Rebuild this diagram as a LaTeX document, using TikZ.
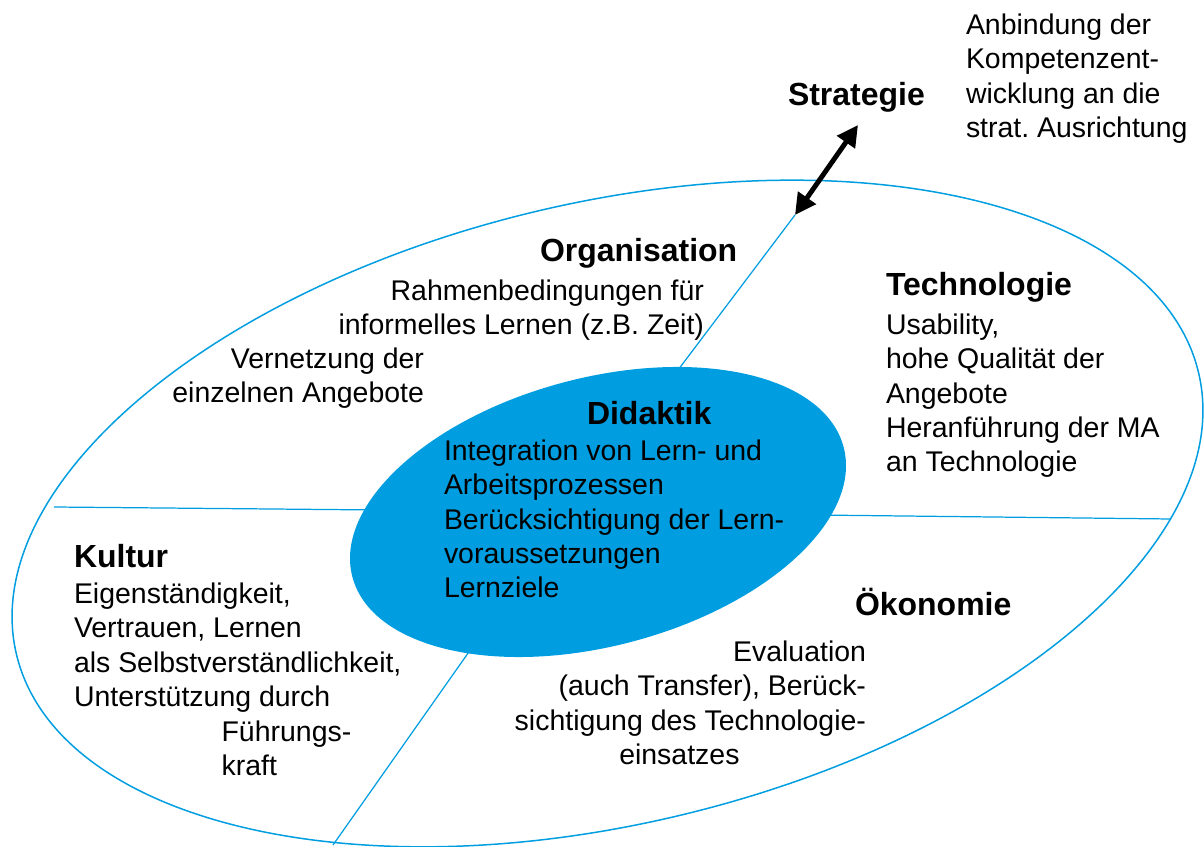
\documentclass[tikz,border=0pt]{standalone}
\usepackage{fontspec}
\setmainfont{Liberation Sans}
\frenchspacing
\usetikzlibrary{arrows.meta,shapes.geometric}
\definecolor{ringblue}{RGB}{0,158,224}
\begin{document}
\begin{tikzpicture}[x=0.02cm,y=-0.02cm,
  body/.style={font=\fontsize{16.2pt}{19.6pt}\selectfont, inner sep=0pt, outer sep=0pt},
  head/.style={font=\fontsize{18.2pt}{20pt}\selectfont\bfseries, inner sep=0pt, outer sep=0pt},
  divider/.style={draw=ringblue, line width=0.7pt},
  link/.style={line width=2.8pt, {Triangle[length=12pt,width=12pt]}-{Triangle[length=12pt,width=12pt]}},
  ]
\useasboundingbox (0,0) rectangle (1204,847);
\clip (0,0) rectangle (1204,847);

% outer ring
\node[ellipse, draw=ringblue, line width=0.85pt, minimum width=24.31cm,
      minimum height=12.42cm, rotate=13.42, inner sep=0pt] (ring) at (607.5,513.5) {};

% end points of the dividing lines
\coordinate (wOut) at (54,507);
\coordinate (wIn)  at (380,510);
\coordinate (eOut) at (1171,519);
\coordinate (eIn)  at (815,515);
\coordinate (sOut) at (333,845);
\coordinate (sIn)  at (478,639);
\coordinate (nOut) at (795,215);
\coordinate (nIn)  at (672,378);
\coordinate (strTip) at (858,125);

\draw[divider] (wOut) -- (wIn);
\draw[divider] (eOut) -- (eIn);
\draw[divider] (sOut) -- (sIn);
\draw[divider] (nIn) -- (nOut);

% centre: Didaktik
\node[ellipse, fill=ringblue, minimum width=10.164cm, minimum height=5.364cm,
      rotate=14.83, inner sep=0pt] (did) at (598,512) {};

% Strategie link
\draw[link] (nOut) -- (strTip);

% texts (multi-line blocks are placed by the baseline of their last line)
\node[head, anchor=base west] (strat) at (788,106) {Strategie};
\node[body, anchor=base west, align=left] (anb) at (966,137.5)
  {Anbindung der\\Kompetenzent-\\wicklung an die\\strat. Ausrichtung};

\node[head, anchor=base west] (orgh) at (540,262) {Organisation};
\node[body, anchor=base east, align=right] (orgt) at (704,334.5)
  {Rahmenbedingungen für\\informelles Lernen (z.B. Zeit)};
\node[body, anchor=base east, align=right] (vern) at (424,402.5)
  {Vernetzung der\\einzelnen Angebote};

\node[head, anchor=base west] (techh) at (886,296) {Technologie};
\node[body, anchor=base west, align=left] (techt) at (886,472)
  {Usability,\\hohe Qualität der\\Angebote\\Heranführung der MA\\an Technologie};

\node[head, anchor=base west] (didh) at (587,425) {Didaktik};
\node[body, anchor=base west, align=left] (didt) at (444,598)
  {Integration von Lern- und\\Arbeitsprozessen\\Berücksichtigung der Lern-\\voraussetzungen\\Lernziele};

\node[head, anchor=base west] (kulh) at (74,568) {Kultur};
\node[body, anchor=base west, align=left] (kult) at (74,775.5)
  {Eigenständigkeit,\\Vertrauen, Lernen\\als Selbstverständlichkeit,\\Unterstützung durch\\\kern84pt Führungs-\\\kern84pt kraft};

\node[head, anchor=base west] (oekh) at (855,616) {Ökonomie};
\node[body, anchor=base east, align=right] (oekt) at (866,764.5)
  {Evaluation\\(auch Transfer), Berück-\\sichtigung des Technologie-\\einsatzes\kern72pt};
\end{tikzpicture}
\end{document}
